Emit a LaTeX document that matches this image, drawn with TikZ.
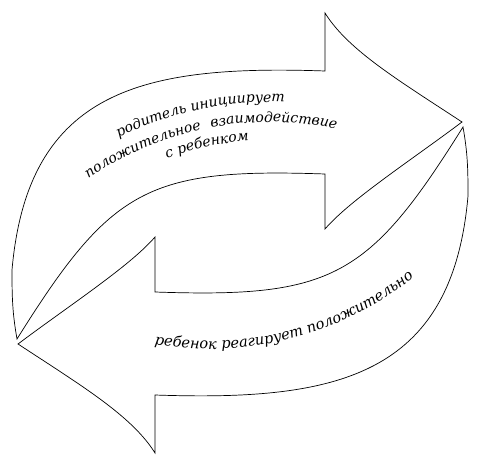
\documentclass[tikz,border=0pt]{standalone}
\usepackage{fontspec}
\setmainfont{DejaVu Serif}
\usetikzlibrary{decorations.text}
\newcommand\arcfont{\fontsize{14}{16}\selectfont\itshape}
\newcommand\arcfontb{\fontsize{14.6}{16}\selectfont\itshape}
\begin{document}
\begin{tikzpicture}[x=1pt,y=1pt,
  arrowline/.style={draw=black, line width=0.7pt, line join=miter},
  ctext/.style={decorate, decoration={text along path, text={|\arcfont|#1}, text align=center}},
  btext/.style={decorate, decoration={text along path, text={|\arcfontb|#1}, text align=center}},
  ltext/.style={decorate, decoration={text along path, text={|\arcfont|#1}, text align=left}},
  rtext/.style={decorate, decoration={text along path, text={|\arcfont|#1}, text align=right}},
  cyclearrow/.pic={
    \coordinate (tt) at (17,129);
    \coordinate (lm) at (12,198);
    \coordinate (so) at (325,397);
    \coordinate (ht) at (325,455);
    \coordinate (tip) at (462,346);
    \coordinate (hb) at (325,239);
    \coordinate (si) at (325,294);
    \draw[arrowline] (tt) to[out=100,in=-90] (lm)
      to[out=85,in=178,looseness=1.25] (so) -- (ht)
      .. controls (348,418) and (398,388) .. (tip)
      .. controls (410,307) and (350,268) .. (hb) -- (si)
      to[out=178,in=58,looseness=1.3] (tt) -- cycle;
  }]
\useasboundingbox (0,0) rectangle (481,468);
\pic (up) at (0,0) {cyclearrow};
\pic[rotate=180] (down) at (480,470) {cyclearrow};
\coordinate (c1) at (270,26);
\coordinate (c2) at (210,444);
\path[ctext={родитель инициирует}] (c1) ++(142:340) arc[start angle=142,end angle=62,radius=340];
\path[rtext={положительное}] (c1) ++(160:320) arc[start angle=160,end angle=102.4,radius=320];
\path[ltext={взаимодействие}] (c1) ++(100.6:320) arc[start angle=100.6,end angle=40,radius=320];
\path[ctext={с ребенком}] (c1) ++(140:302) arc[start angle=140,end angle=64,radius=302];
\path[btext={ребенок реагирует положительно}] (c2) ++(244.5:325) arc[start angle=244.5,end angle=324.5,radius=325];
\end{tikzpicture}
\end{document}
